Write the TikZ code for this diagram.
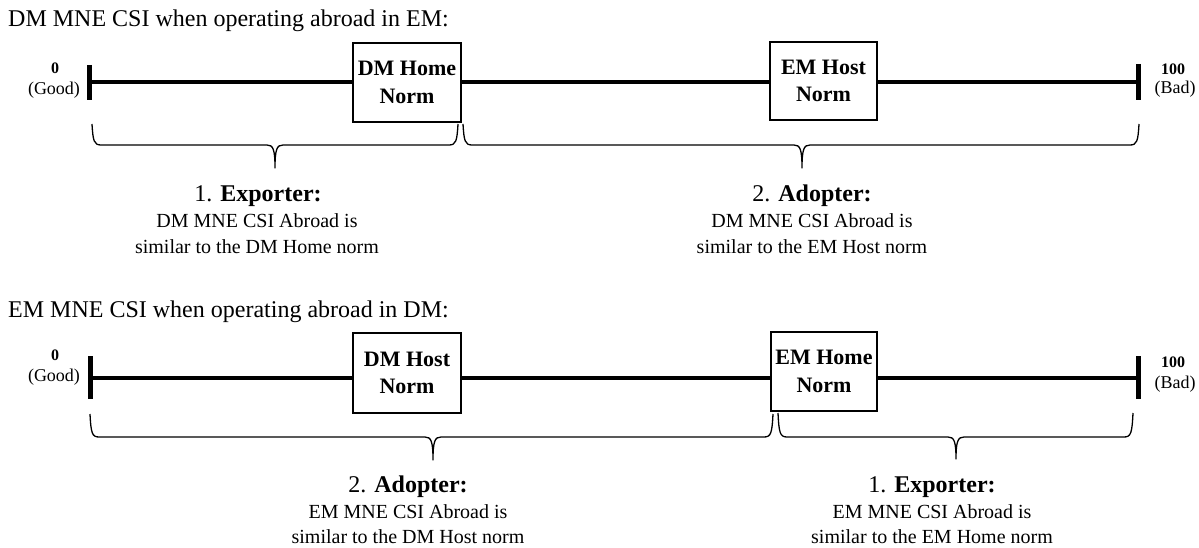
\documentclass[tikz,border=0pt]{standalone}
\usepackage{fontspec}
\setmainfont{Liberation Serif}
\newcommand{\fsz}[1]{\fontsize{#1}{#1}\selectfont}
\newcommand{\mybrace}[6]{% x1, x2, xm, ytop, yh, ytip
  \draw[bracestyle] (#1,#4) .. controls (#1+1,#5-4) and (#1+2,#5) .. (#1+9,#5)
    -- (#3-8,#5) .. controls (#3-2,#5) and (#3,#5+4) .. (#3,#6)
    .. controls (#3,#5+4) and (#3+2,#5) .. (#3+8,#5)
    -- (#2-9,#5) .. controls (#2-2,#5) and (#2-1,#5-4) .. (#2,#4);}
\begin{document}
\begin{tikzpicture}[x=1pt,y=-1pt,
  mainline/.style={line width=4.5pt},
  tickline/.style={line width=5pt},
  normbox/.style={draw,line width=1.5pt,fill=white,inner sep=0pt,align=center,
    font=\fontsize{22}{27.5}\selectfont\bfseries},
  bracestyle/.style={line width=1.3pt,line join=round},
  titletext/.style={anchor=base west,inner sep=0pt,font=\fsz{24}},
  headtext/.style={anchor=base,inner sep=0pt,font=\fsz{24}},
  bodytext/.style={anchor=base,inner sep=0pt,font=\fsz{20}},
  numtext/.style={anchor=base,inner sep=0pt,font=\fsz{16}\bfseries},
  endtext/.style={anchor=base,inner sep=0pt,font=\fsz{18}}]
\useasboundingbox[fill=white] (0,0) rectangle (1199,548);

% ---------- top section ----------
\node[titletext] (title1) at (8,27) {DM MNE CSI when operating abroad in EM:};
\coordinate (L1) at (89,82);
\coordinate (R1) at (1138,82);
\node[normbox,minimum width=108pt,minimum height=79pt] (dmhome) at (407,82.5) {DM Home\\Norm};
\node[normbox,minimum width=107pt,minimum height=78pt] (emhost) at (823.5,81) {EM Host\\Norm};
\draw[mainline] (L1) -- (L1 -| dmhome.west);
\draw[mainline] (L1 -| dmhome.east) -- (L1 -| emhost.west);
\draw[mainline] (L1 -| emhost.east) -- (R1);
\draw[tickline] (89,65) -- (89,100);
\draw[tickline] (1138,64) -- (1138,100);
\node[numtext] (zero1) at (55,74) {0};
\node[endtext] (good1) at (54,95) {(Good)};
\node[numtext] (hund1) at (1173,75) {100};
\node[endtext] (bad1) at (1175,94) {(Bad)};

\mybrace{92}{458}{275}{124}{145}{168}
\mybrace{463}{1139}{802}{124}{145}{168}

\node[headtext] (exp1h) at (258,202) {1. \textbf{Exporter:}};
\node[bodytext] (exp1a) at (257,228) {DM MNE CSI Abroad is};
\node[bodytext] (exp1b) at (257,253) {similar to the DM Home norm};
\node[headtext] (ado1h) at (812,202) {2. \textbf{Adopter:}};
\node[bodytext] (ado1a) at (812,228) {DM MNE CSI Abroad is};
\node[bodytext] (ado1b) at (812,253) {similar to the EM Host norm};

% ---------- bottom section ----------
\node[titletext] (title2) at (8,317) {EM MNE CSI when operating abroad in DM:};
\coordinate (L2) at (90,378);
\coordinate (R2) at (1138,378);
\node[normbox,minimum width=108pt,minimum height=80pt] (dmhost) at (407,373) {DM Host\\Norm};
\node[normbox,minimum width=106pt,minimum height=79pt] (emhome) at (824,371.5) {EM Home\\Norm};
\draw[mainline] (L2) -- (L2 -| dmhost.west);
\draw[mainline] (L2 -| dmhost.east) -- (L2 -| emhome.west);
\draw[mainline] (L2 -| emhome.east) -- (R2);
\draw[tickline] (90,356) -- (90,399);
\draw[tickline] (1138,356) -- (1138,399);
\node[numtext] (zero2) at (55,360) {0};
\node[endtext] (good2) at (54,381) {(Good)};
\node[numtext] (hund2) at (1173,367) {100};
\node[endtext] (bad2) at (1175,388) {(Bad)};

\mybrace{90}{773}{433}{414}{437}{460}
\mybrace{778}{1133}{956}{413}{437}{459}

\node[headtext] (ado2h) at (408,492) {2. \textbf{Adopter:}};
\node[bodytext] (ado2a) at (408,518) {EM MNE CSI Abroad is};
\node[bodytext] (ado2b) at (408,543) {similar to the DM Host norm};
\node[headtext] (exp2h) at (932,492) {1. \textbf{Exporter:}};
\node[bodytext] (exp2a) at (932,518) {EM MNE CSI Abroad is};
\node[bodytext] (exp2b) at (932,543) {similar to the EM Home norm};
\end{tikzpicture}
\end{document}
